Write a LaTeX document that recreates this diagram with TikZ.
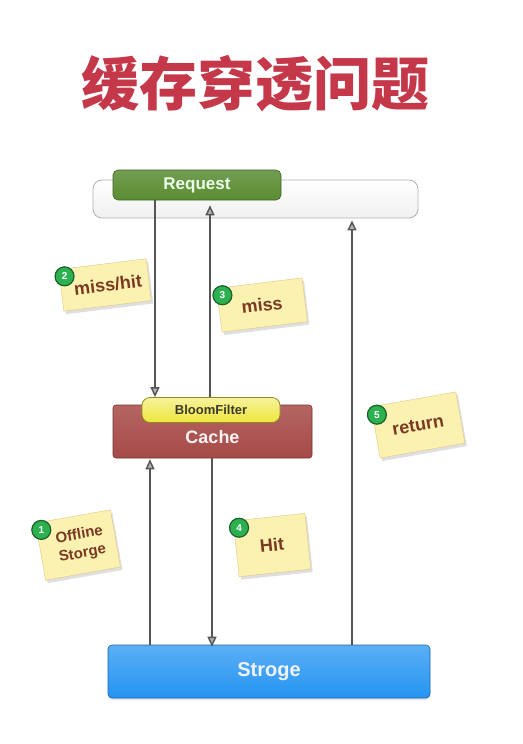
\documentclass[tikz,border=0pt]{standalone}
\usepackage{fontspec}
\setsansfont{Liberation Sans}
\newfontfamily\cjk{Noto Sans CJK SC}
\usepackage{tikz}
\usetikzlibrary{arrows.meta,positioning,calc,shadows}
\definecolor{titlered}{HTML}{C4384A}
\definecolor{reqgreen}{HTML}{5A8C32}
\definecolor{cachered}{HTML}{A64A47}
\definecolor{bfyellow}{HTML}{EEE63A}
\definecolor{storblue}{HTML}{2494F2}
\definecolor{notefill}{HTML}{FBF2B2}
\definecolor{notetext}{HTML}{7A3A22}
\definecolor{badge}{HTML}{2DB04F}
\definecolor{flowgray}{HTML}{555555}

\begin{document}
\begin{tikzpicture}[x=1pt,y=-1pt,
  every node/.style={font=\sffamily\bfseries},
  flow/.style={draw=flowgray, line width=2.4pt,
    -{Triangle[length=10pt,width=9pt,line width=1.4pt,fill=flowgray!45]}},
  note/.style={draw=notefill!60!brown, line width=0.4pt, fill=notefill,
    minimum width=88pt, drop shadow={opacity=0.25, shadow xshift=2pt, shadow yshift=-3pt},
    text=notetext, font=\sffamily\bfseries\fontsize{18}{18}\selectfont, align=center, inner sep=1pt},
  badgenode/.style={circle, draw=badge!55!black, line width=1.2pt, fill=badge, minimum size=19pt,
    inner sep=0pt, text=white, font=\sffamily\bfseries\fontsize{10}{10}\selectfont}]
  \useasboundingbox (0,0) rectangle (522,744);
  \fill[white] (0,0) rectangle (522,744);

  % title
  \node (title) at (255,84) {\cjk\bfseries\fontsize{58}{58}\selectfont\color{titlered}缓存穿透问题};

  % request bar
  \node (bar) [draw=gray!60, line width=0.8pt, rounded corners=9pt, top color=white, bottom color=gray!12,
    minimum width=325pt, minimum height=38pt, inner sep=0pt] at (255.5,199) {};
  \node (req) [draw=reqgreen!70!black, line width=0.6pt, rounded corners=5pt, top color=reqgreen!85!white,
    bottom color=reqgreen, minimum width=168pt, minimum height=30pt, inner sep=0pt,
    text=green!8!white, font=\sffamily\bfseries\fontsize{17}{17}\selectfont] at (197,185) {Request};

  % cache
  \node (cache) [draw=cachered!70!black, line width=0.6pt, rounded corners=3pt, top color=cachered!85!white,
    bottom color=cachered, minimum width=199pt, minimum height=53pt, inner sep=0pt, text depth=0pt,
    text=red!5!white, font=\sffamily\bfseries\fontsize{18}{18}\selectfont] at (212.5,431.5) {\raisebox{-10pt}{Cache}};
  \node (bf) [draw=bfyellow!60!black, line width=0.8pt, rounded corners=8pt, top color=bfyellow!50!white,
    bottom color=bfyellow, minimum width=138pt, minimum height=25pt, inner sep=0pt,
    text=black!75!olive, font=\sffamily\bfseries\fontsize{13}{13}\selectfont] at (211,410) {BloomFilter};

  % storage
  \node (stor) [draw=storblue!70!black, line width=0.6pt, rounded corners=4pt, top color=storblue!75!white,
    bottom color=storblue, minimum width=322pt, minimum height=53pt, inner sep=0pt,
    drop shadow={opacity=0.2, shadow xshift=0pt, shadow yshift=-2pt},
    text=blue!5!white, font=\sffamily\bfseries\fontsize{20}{20}\selectfont] at (269,671.5) {Stroge};

  % flows
  \draw[flow] (req.south -| 155,0) -- (bf.north -| 155,0);
  \draw[flow] (bf.north -| 210,0) -- ($(req.south -| 210,0)+(0,5)$);
  \draw[flow] (stor.north -| 352,0) -- ($(bar.south -| 352,0)+(0,2)$);
  \draw[flow] (stor.north -| 150,0) -- ($(cache.south -| 150,0)+(0,1)$);
  \draw[flow] (cache.south -| 212,0) -- ($(stor.north -| 212,0)+(0,2)$);

  % notes
  \node (n2) [note, rotate=7, minimum height=42pt] at (105,285) {\raisebox{-4pt}{\hspace{6pt}miss/hit}};
  \node (n3) [note, rotate=7, minimum height=44pt, minimum width=86pt] at (262,305) {\raisebox{-4pt}{miss}};
  \node (n5) [note, rotate=10, minimum height=52pt, minimum width=86pt] at (418,425) {return};
  \node (n1) [note, rotate=10, minimum height=58pt, minimum width=76pt,
    font=\sffamily\bfseries\fontsize{15}{19}\selectfont] at (78,545) {\hspace{6pt}Offline\\\hspace{6pt}Storge};
  \node (n4) [note, rotate=6, minimum height=56pt, minimum width=72pt] at (272,545) {Hit};

  \node (b2) [badgenode] at ($(n2.north west)+(6,7)$) {2};
  \node (b3) [badgenode] at ($(n3.north west)+(6,7)$) {3};
  \node (b5) [badgenode] at ($(n5.north west)+(6,8)$) {5};
  \node (b1) [badgenode] at ($(n1.north west)+(6,7)$) {1};
  \node (b4) [badgenode] at ($(n4.north west)+(6,7)$) {4};
\end{tikzpicture}
\end{document}
